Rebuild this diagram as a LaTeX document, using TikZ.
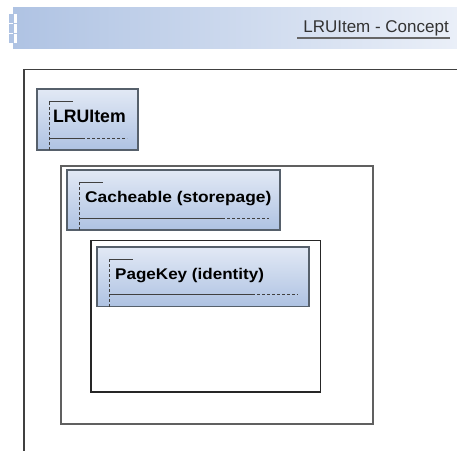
\documentclass[tikz,border=0pt]{standalone}
\usepackage{fontspec}
\setmainfont{Liberation Sans}
\usepackage{graphicx}
\definecolor{bandL}{HTML}{AFC3E3}
\definecolor{bandR}{HTML}{EAEFF8}
\definecolor{boxTop}{HTML}{E2E9F5}
\definecolor{boxBot}{HTML}{AEC2E2}
\definecolor{edge}{HTML}{56606B}
\definecolor{frame}{HTML}{606060}
\tikzset{
  x=1pt, y=-1pt,
  umlbox/.style={draw=edge, line width=1.1pt, top color=boxTop, bottom color=boxBot, inner sep=0pt, outer sep=0pt, rectangle},
  container/.style={draw=frame, line width=1.1pt, fill=white, inner sep=0pt, outer sep=0pt, rectangle},
  deco/.style={draw=black!75, line width=0.9pt},
  decodash/.style={draw=black!75, line width=0.9pt, dash pattern=on 3pt off 2pt},
  boxtext/.style={inner sep=0pt, anchor=base west},
}
% #1 name, #2 left, #3 top, #4 right, #5 bottom, #6 solid end x, #7 baseline offset, #8 text, #9 text x offset
\newcommand{\umlitem}[9]{%
  \node[umlbox, minimum width={#4-#2}, minimum height={#5-#3}, anchor=north west] (#1) at (#2,#3) {};
  \coordinate (#1-a) at (#2+12,#5);
  \coordinate (#1-b) at (#2+12,#3+12);
  \coordinate (#1-c) at (#2+36,#3+12);
  \coordinate (#1-d) at (#2+12,#5-12);
  \coordinate (#1-e) at (#6,#5-12);
  \coordinate (#1-f) at (#4-11,#5-12);
  \draw[decodash] (#1-a) -- (#1-b);
  \draw[deco] (#1-b) -- (#1-c);
  \draw[deco] (#1-d) -- (#1-e);
  \draw[decodash] (#1-e) -- (#1-f);
  \node[boxtext] (#1-t) at (#2+#9,#3+#7) {#8};
}
\begin{document}
\begin{tikzpicture}
\useasboundingbox (0,0) rectangle (457,450);
% header band
\node[inner sep=0pt, outer sep=0pt, minimum width=444, minimum height=41, anchor=north west, left color=bandL, right color=bandR, draw=none] (band) at (13,7) {};
\foreach \i/\yy in {1/14,2/24,3/34}{
  \node[inner sep=0pt, minimum width=8, minimum height=8.5, anchor=north west, fill=white, draw=none] (sq\i) at (9,\yy) {};
  \node[inner sep=0pt, minimum width=4.5, minimum height=8.5, anchor=north west, fill=bandL, draw=none] (sqb\i) at (9,\yy) {};
}
\node[font=\fontsize{17}{20}\selectfont, text=black!80, anchor=base east, inner sep=0pt] (title) at (449,32.7) {LRUItem - Concept};
\coordinate (ulA) at (297,37.8);
\coordinate (ulB) at (450,37.8);
\draw[line width=1.8pt, draw=black!60] (ulA) -- (ulB);
% outer frame
\coordinate (fA) at (24,452);
\coordinate (fB) at (24,69.5);
\coordinate (fC) at (459,69.5);
\draw[line width=1.2pt, draw=black!75] (fA) -- (fB) -- (fC);
% containers
\node[container, minimum width=312, minimum height=258, anchor=north west] (c2) at (61,166) {};
\node[container, draw=black!85, minimum width=229.5, minimum height=151.5, anchor=north west] (c3) at (91,240.5) {};
% items
\umlitem{lru}{37}{89}{138}{150}{82}{33}{\fontsize{18}{21}\selectfont\bfseries\scalebox{0.98}[1]{LRUItem}}{16}
\umlitem{cache}{67}{170}{280}{230}{222}{32.7}{\fontsize{15.5}{18}\selectfont\bfseries\scalebox{1.12}[1]{Cacheable (storepage)}}{18}
\umlitem{pkey}{97}{247}{309}{306.5}{252}{32.3}{\fontsize{15.5}{18}\selectfont\bfseries\scalebox{1.1}[1]{PageKey (identity)}}{18}
\end{tikzpicture}
\end{document}
